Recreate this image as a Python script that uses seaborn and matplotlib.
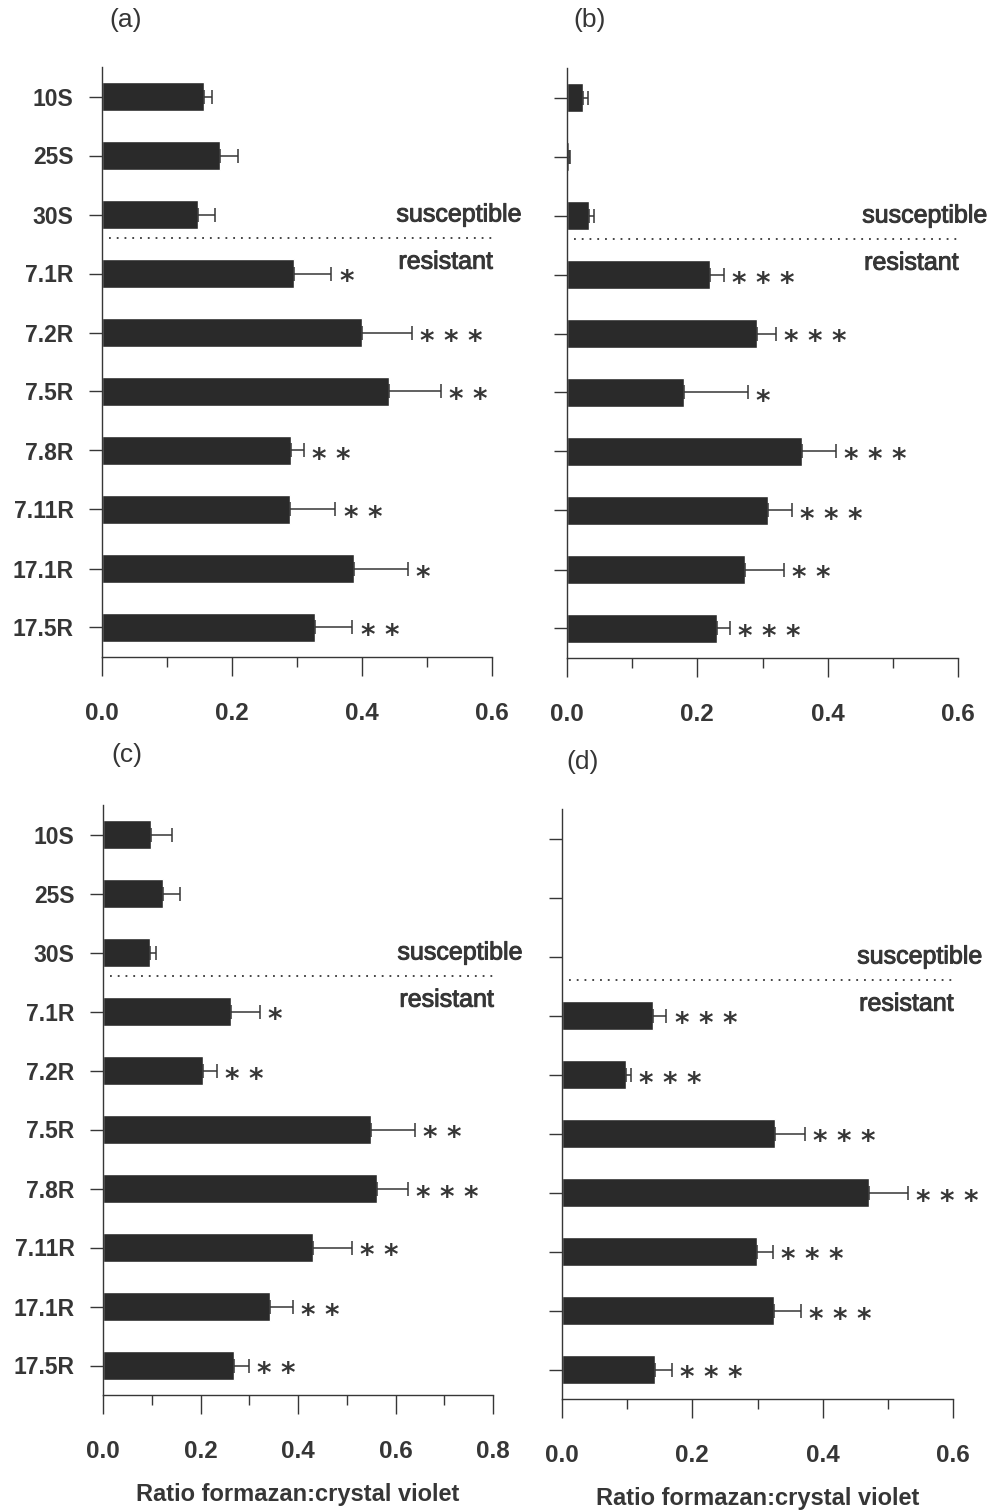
# Formazan:crystal violet ratio per strain, four panels (a)-(d)
# horizontal bars with one-sided SE bars and significance stars

import matplotlib
matplotlib.use("Agg")
import matplotlib.pyplot as plt
import matplotlib.patheffects as pe
import seaborn as sns
import pandas as pd
from matplotlib import font_manager
from matplotlib.ticker import MultipleLocator, FormatStrFormatter

strains = ["10S", "25S", "30S", "7.1R", "7.2R", "7.5R", "7.8R", "7.11R", "17.1R", "17.5R"]

# panel (a)
a_vals = [0.157, 0.182, 0.148, 0.296, 0.400, 0.442, 0.291, 0.289, 0.388, 0.328]
a_err = [0.012, 0.027, 0.026, 0.057, 0.077, 0.079, 0.019, 0.070, 0.082, 0.057]
a_stars = [0, 0, 0, 1, 3, 2, 2, 2, 1, 2]

# panel (b)
b_vals = [0.025, 0.003, 0.034, 0.219, 0.292, 0.180, 0.361, 0.308, 0.273, 0.230]
b_err = [0.007, 0.002, 0.007, 0.022, 0.029, 0.098, 0.052, 0.037, 0.060, 0.020]
b_stars = [0, 0, 0, 3, 3, 1, 3, 3, 2, 3]

# panel (c)
c_vals = [0.098, 0.123, 0.096, 0.262, 0.205, 0.550, 0.562, 0.430, 0.343, 0.269]
c_err = [0.044, 0.035, 0.013, 0.060, 0.029, 0.090, 0.064, 0.080, 0.047, 0.030]
c_stars = [0, 0, 0, 1, 2, 2, 3, 2, 2, 2]

# panel (d)
d_vals = [0.0, 0.0, 0.0, 0.140, 0.098, 0.327, 0.471, 0.299, 0.325, 0.143]
d_err = [0.0, 0.0, 0.0, 0.020, 0.008, 0.046, 0.060, 0.025, 0.041, 0.026]
d_stars = [0, 0, 0, 3, 3, 3, 3, 3, 3, 3]

x_max = {"a": 0.6, "b": 0.6, "c": 0.8, "d": 0.6}

BAR = "#2a2a2a"
INK = "#363636"

sns.set_style("ticks")
available = {f.name for f in font_manager.fontManager.ttflist}
if "Liberation Sans Narrow" in available:
    TICK_FONT, Y_SIZE, X_SIZE = "Liberation Sans Narrow", 18, 19
else:
    TICK_FONT, Y_SIZE, X_SIZE = "Liberation Sans", 16.5, 17.5
plt.rcParams["font.family"] = ["Liberation Sans", "DejaVu Sans"]

heavy = [pe.withStroke(linewidth=0.7, foreground=INK)]

fig = plt.figure(figsize=(9.93, 15.10), dpi=100)
W, H = 993, 1510


def px_axes(left, top, right, bottom):
    return fig.add_axes([left / W, 1 - bottom / H, (right - left) / W, (bottom - top) / H])


def draw_panel(ax, vals, err, stars, xmax, show_labels, bottom_label):
    df = pd.DataFrame({"strain": strains, "ratio": vals})
    sns.barplot(data=df, x="ratio", y="strain", orient="h", color=BAR,
                saturation=1, width=0.5, ax=ax)
    for i, (v, e, s) in enumerate(zip(vals, err, stars)):
        if e > 0:
            ax.errorbar(v, i, xerr=[[0], [e]], fmt="none", ecolor=INK,
                        elinewidth=1.1, capsize=5, capthick=1.1)
        for k in range(s):
            ax.annotate("*", xy=(v + e, i), xytext=(15 + 24 * k, -17),
                        textcoords="offset pixels", ha="center", va="baseline",
                        fontsize=20, fontweight="bold", color=INK,
                        family="DejaVu Sans")

    # susceptible / resistant divider
    ax.hlines(2.4, 0.01 * xmax / 0.6, xmax, colors=INK, linewidth=1.3,
              linestyles=(0, (1, 3.3)))
    tr = ax.get_yaxis_transform()
    ax.text(0.755, 2.0, "susceptible", transform=tr, fontsize=18,
            color=INK, ha="left", va="center", path_effects=heavy)
    ax.text(0.76, 2.8, "resistant", transform=tr, fontsize=18,
            color=INK, ha="left", va="center", path_effects=heavy)

    ax.set_xlim(0, xmax)
    ax.set_ylim(len(strains) - 0.5, -0.5)
    ax.xaxis.set_major_locator(MultipleLocator(0.2))
    ax.xaxis.set_minor_locator(MultipleLocator(0.1))
    ax.xaxis.set_major_formatter(FormatStrFormatter("%.1f"))
    ax.tick_params(axis="x", which="major", length=14, width=1.0, pad=18.5,
                   color=INK, labelcolor=INK, labelsize=X_SIZE)
    ax.tick_params(axis="x", which="minor", length=7, width=1.0, color=INK)
    ax.tick_params(axis="y", length=9.5, width=1.0, pad=11, color=INK,
                   labelcolor=INK, labelleft=show_labels, labelsize=Y_SIZE)
    for lab in ax.get_xticklabels() + ax.get_yticklabels():
        lab.set_fontfamily(TICK_FONT)
        lab.set_fontweight("bold")
    sns.despine(ax=ax)
    for sp in ("left", "bottom"):
        ax.spines[sp].set_color(INK)
        ax.spines[sp].set_linewidth(1.0)
    ax.set_ylabel("")
    if bottom_label:
        ax.set_xlabel("Ratio formazan:crystal violet", fontsize=17,
                      fontweight="bold", color=INK, labelpad=14)
    else:
        ax.set_xlabel("")


ax_a = px_axes(102, 67, 492, 657)
ax_b = px_axes(567, 68, 958, 658)
ax_c = px_axes(103, 805, 493, 1395)
ax_d = px_axes(562, 809, 953, 1399)

draw_panel(ax_a, a_vals, a_err, a_stars, x_max["a"], True, False)
draw_panel(ax_b, b_vals, b_err, b_stars, x_max["b"], False, False)
draw_panel(ax_c, c_vals, c_err, c_stars, x_max["c"], True, True)
draw_panel(ax_d, d_vals, d_err, d_stars, x_max["d"], False, True)

# panel letters
for letter, (x, y) in zip(["(a)", "(b)", "(c)", "(d)"],
                          [(126, 20), (590, 20), (127, 755), (583, 762)]):
    fig.text(x / W, 1 - y / H, letter, fontsize=19, color=INK,
             ha="center", va="center")

plt.savefig("out.png", dpi=100)
plt.close()
